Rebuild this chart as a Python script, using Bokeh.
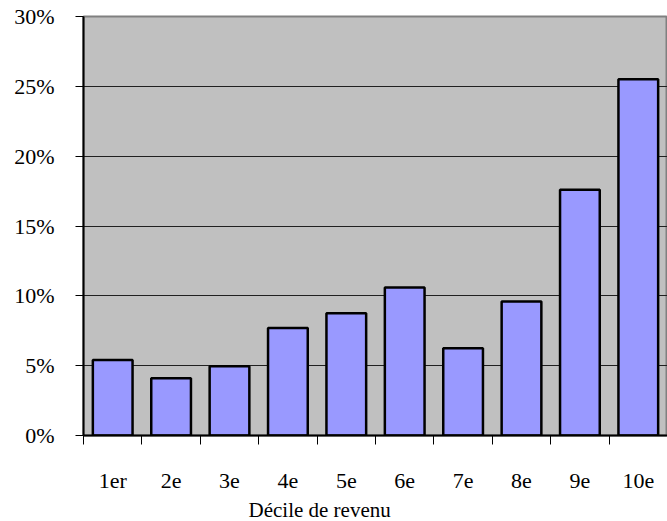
from bokeh.plotting import figure
from bokeh.models import (Range1d, LinearAxis, FixedTicker, NumeralTickFormatter,
                          ColumnDataSource, Title)
from bokeh.embed import file_html
from bokeh.resources import INLINE

# Share of each income decile (percent)
deciles = ["1er", "2e", "3e", "4e", "5e", "6e", "7e", "8e", "9e", "10e"]
shares = [5.4, 4.1, 4.95, 7.7, 8.75, 10.6, 6.25, 9.6, 17.6, 25.5]
y_ticks = [0, 5, 10, 15, 20, 25, 30]

FONT = "Liberation Serif"

n = len(deciles)
centers = [i + 0.5 for i in range(n)]
bounds = list(range(n + 1))
src = ColumnDataSource(dict(x=centers, share=[v / 100 for v in shares]))

p = figure(width=667, height=521, x_range=Range1d(0, n),
           y_range=Range1d(0, 0.30), output_backend="svg", toolbar_location=None,
           x_axis_location=None, y_axis_location=None,
           min_border_left=83, min_border_right=0, min_border_top=16,
           min_border_bottom=0)
p.background_fill_color = "#C0C0C0"
p.border_fill_color = "white"
p.outline_line_color = "#808080"
p.outline_line_width = 2

p.vbar(x="x", top="share", width=0.68, source=src, fill_color="#9999FF",
       line_color="black", line_width=2.5)

# y axis
yax = LinearAxis(ticker=FixedTicker(ticks=[t / 100 for t in y_ticks]),
                 formatter=NumeralTickFormatter(format="0%"))
yax.axis_line_color = "black"
yax.axis_line_width = 2
yax.major_tick_out = 8
yax.major_tick_in = 0
yax.major_tick_line_color = "black"
yax.minor_tick_line_color = None
yax.major_label_standoff = 21
yax.major_label_text_font = FONT
yax.major_label_text_font_size = "22px"
yax.major_label_text_color = "black"
p.add_layout(yax, "left")

p.ygrid.ticker = FixedTicker(ticks=[t / 100 for t in y_ticks])
p.ygrid.grid_line_color = "#202020"
p.ygrid.grid_line_width = 1
p.xgrid.grid_line_color = None

# x axis: names at the slot centres, short ticks on the slot boundaries
xax = LinearAxis(ticker=FixedTicker(ticks=centers, minor_ticks=bounds),
                 major_label_overrides={c: d for c, d in zip(centers, deciles)})
xax.axis_line_color = "black"
xax.axis_line_width = 2
xax.major_tick_line_color = None
xax.major_tick_out = 0
xax.major_tick_in = 0
xax.minor_tick_line_color = "black"
xax.minor_tick_line_width = 1
xax.minor_tick_out = 9
xax.minor_tick_in = 0
xax.major_label_standoff = 23
xax.major_label_text_font = FONT
xax.major_label_text_font_size = "22px"
xax.major_label_text_color = "black"
p.add_layout(xax, "below")

# axis title, placed left of the frame's centre
p.add_layout(Title(text="Décile de revenu", align="left", offset=165,
                   text_font=FONT, text_font_style="normal",
                   text_font_size="21px", text_color="black",
                   standoff=0), "below")

open("out.html", "w").write(file_html(p, INLINE))
